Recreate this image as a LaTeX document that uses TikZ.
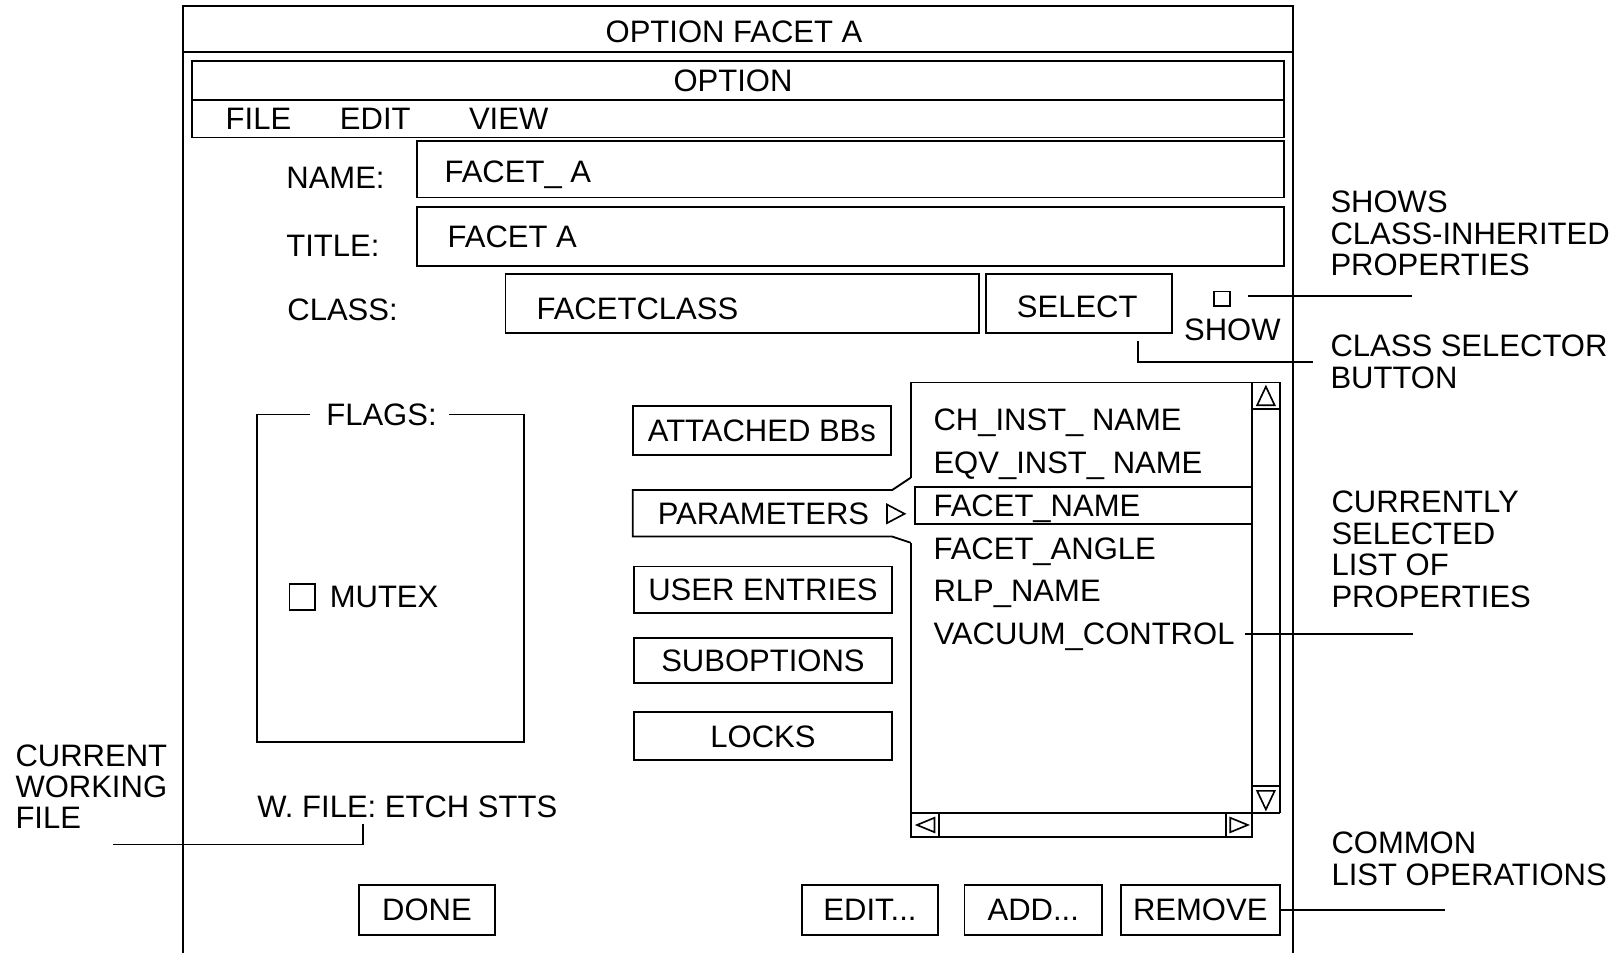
\documentclass[tikz,border=0pt]{standalone}
\usepackage{fontspec}
\setmainfont{Liberation Sans}
\usetikzlibrary{calc}
\begin{document}
\begin{tikzpicture}[x=0.5pt,y=-0.5pt,line width=0.9pt,
  every node/.style={font=\fontsize{15}{15.2}\selectfont,inner sep=0pt,outer sep=0pt,
     text height=10.74pt,text depth=0pt},
  uibox/.style={draw,rectangle},
  emptybox/.style={draw,rectangle,text height=0pt,text depth=0pt},
  wh/.style 2 args={minimum width=#1*0.5pt,minimum height=#2*0.5pt},
  lbl/.style={anchor=west},
  ann/.style={anchor=north west,align=left,text height={},text depth={},
     font=\fontsize{15}{15.2}\selectfont},
  leader/.style={line width=0.8pt},
  tri/.style={line width=0.8pt}]
\useasboundingbox (0,0) rectangle (1568,922);

% outer window
\draw (177,922) -- (177,6) -- (1251,6) -- (1251,922);
\draw (177,50) -- (1251,50);
\node (wtitle) at (710,30) {OPTION FACET A};

% inner window and menu
\draw (186,59) rectangle (1242,133);
\draw (186,97) -- (1242,97);
\node (otitle) at (709,78) {OPTION};
\node (mfile) at (250,115) {FILE};
\node (medit) at (363,115) {EDIT};
\node (mview) at (492,115) {VIEW};

% name / title / class
\node[lbl] (namel) at (277,172) {NAME:};
\node[emptybox,wh={839}{55}] (namef) at (822.5,163.5) {};
\node[lbl] (namev) at (430,166) {FACET\_ A};
\node[lbl] (titlel) at (277,237) {TITLE:};
\node[emptybox,wh={839}{57}] (titlef) at (822.5,228.5) {};
\node[lbl] (titlev) at (433,229) {FACET A};
\node[lbl] (classl) at (278,299) {CLASS:};
\node[emptybox,wh={458}{57}] (classf) at (718,293.5) {};
\node[lbl] (classv) at (519,298) {FACETCLASS};
\node[uibox,wh={180}{57}] (selectb) at (1044,293.5) {};
\node (selectt) at (1042,296) {SELECT};
\node[emptybox,wh={16}{14},line width=0.8pt] (showbox) at (1182,289) {};
\node (showl) at (1192,319) {SHOW};

% flags group
\node (flagsl) at (369,401) {FLAGS:};
\draw (300,401) -- (249,401) -- (249,718) -- (507,718) -- (507,401) -- (434,401);
\node[emptybox,wh={25}{25}] (mutexbox) at (292.5,577.5) {};
\node[lbl] (mutexl) at (319,577) {MUTEX};
\node[lbl] (wfile) at (249,780) {W. FILE: ETCH STTS};

% buttons
\node[uibox,wh={250}{47}] (attached) at (737,416.5) {ATTACHED BBs};
\draw (881,462) -- (863,474) -- (612,474) -- (612,519) -- (863,519) -- (881,525);
\node (params) at (738.5,497) {PARAMETERS};
\draw[tri] (858,488) -- (875,497) -- (858,506) -- cycle;
\node[uibox,wh={250}{45}] (userent) at (738,570.5) {USER ENTRIES};
\node[uibox,wh={250}{44}] (subopt) at (738,639) {SUBOPTIONS};
\node[uibox,wh={250}{46}] (locks) at (738,712) {LOCKS};

% list box
\draw (881,462) -- (881,370) -- (1238,370) -- (1238,786);
\draw (881,525) -- (881,810) -- (1211,810) -- (1211,786);
\draw (881,786) -- (1238,786);
\draw (1211,370) -- (1211,786);
\draw (1211,396) -- (1238,396);
\draw (1211,760) -- (1238,760);
\draw (908,786) -- (908,810);
\draw (1186,786) -- (1186,810);
\draw[tri] (1216,392) -- (1233,392) -- (1224.5,374) -- cycle;
\draw[tri] (1216,765) -- (1233,765) -- (1224.5,783) -- cycle;
\draw[tri] (904,791) -- (904,805) -- (887,798) -- cycle;
\draw[tri] (1190,791) -- (1190,805) -- (1207,798) -- cycle;
\node[emptybox,wh={326}{36}] (selitem) at (1048,489) {};
\node[lbl] (it1) at (903,406) {CH\_INST\_ NAME};
\node[lbl] (it2) at (903,447) {EQV\_INST\_ NAME};
\node[lbl] (it3) at (903,489) {FACET\_NAME};
\node[lbl] (it4) at (903,530) {FACET\_ANGLE};
\node[lbl] (it5) at (903,571) {RLP\_NAME};
\node[lbl] (it6) at (903,613) {VACUUM\_CONTROL};

% bottom buttons
\node[uibox,wh={132}{48}] (done) at (413,880) {DONE};
\node[uibox,wh={131}{48}] (editb) at (841.5,880) {EDIT...};
\node[uibox,wh={133}{48}] (addb) at (999.5,880) {ADD...};
\node[uibox,wh={154}{48}] (removeb) at (1161,880) {REMOVE};

% annotations
\node[ann] (ashows) at (1287,185) {SHOWS\\CLASS-INHERITED\\PROPERTIES};
\node[ann] (aclsel) at (1287,324) {CLASS SELECTOR\\BUTTON};
\node[ann] (acurr) at (1288,475) {CURRENTLY\\SELECTED\\LIST OF\\PROPERTIES};
\node[ann] (acommon) at (1288,805) {COMMON\\LIST OPERATIONS};
\node[ann] (acwf) at (15,720) {CURRENT\\WORKING\\FILE};

% leaders
\coordinate (showend) at (1366,286);
\draw[leader,shorten <=8.5pt] (showbox.east |- showend) -- (showend);
\coordinate (selstart) at (1101,330);
\coordinate (selend) at (1270,350);
\draw[leader] (selstart) |- (selend);
\coordinate (vacend) at (1367,613);
\draw[leader,shorten <=5pt] (it6.east) -- (it6.east -| vacend);
\coordinate (remend) at (1398,880);
\draw[leader] (removeb.east) -- (remend);
\coordinate (wfstart) at (351,797);
\coordinate (wfend) at (109,817);
\draw[leader] (wfstart) |- (wfend);
\end{tikzpicture}
\end{document}
